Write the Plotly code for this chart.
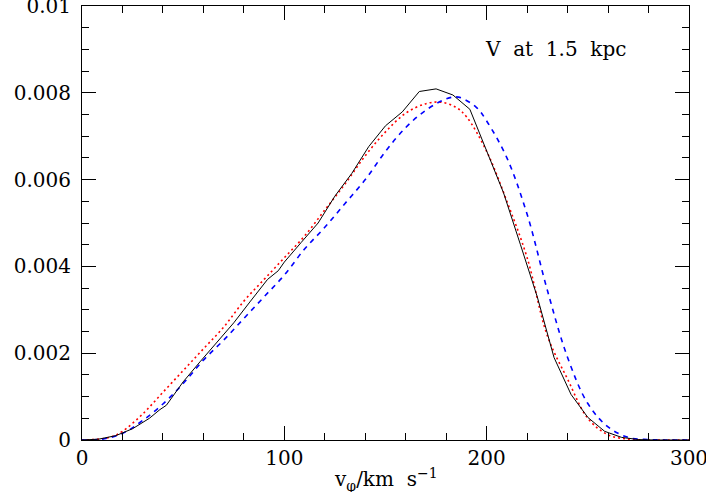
import plotly.graph_objects as go

# black solid histogram (model)
black_v = [0, 8.3, 16.7, 25, 33.3, 38.5, 41.7, 50, 58.3, 66.7, 75, 83.3, 91.7, 97, 100,
           108.3, 116.7, 125, 133.3, 141.7, 150, 158.3, 166.7, 175, 183.3, 191.7, 200,
           208.3, 216.7, 225, 233.3, 241.7, 250, 258.3, 266.7, 275, 283.3, 291.7, 300]
black_f = [0, 0.00002, 0.0001, 0.00026, 0.0005, 0.0007, 0.0008, 0.00134, 0.0018, 0.00225,
           0.0027, 0.0032, 0.0037, 0.0039, 0.0041, 0.00455, 0.005, 0.00562, 0.00614, 0.00676,
           0.00724, 0.00756, 0.00803, 0.00809, 0.00795, 0.00762, 0.00668, 0.0057, 0.0045,
           0.0033, 0.0019, 0.00105, 0.00052, 0.0002, 0.00006, 0.00001, 0, 0, 0]

# red dotted
red_v = [0, 5, 10, 15, 20, 30, 40, 50, 60, 70, 80, 90, 100, 110, 120, 130, 140, 150, 160,
         170, 178, 185, 190, 200, 210, 220, 230, 240, 250, 260, 270, 280, 290, 300]
red_f = [0, 0.00001, 0.00003, 0.00008, 0.0002, 0.0006, 0.0011, 0.0016, 0.0021, 0.0026,
         0.0032, 0.0037, 0.0042, 0.0047, 0.0053, 0.0059, 0.00655, 0.0071, 0.00753, 0.00775,
         0.00778, 0.00766, 0.00745, 0.00665, 0.0055, 0.0042, 0.0024, 0.0014, 0.0005,
         0.00012, 0.00002, 0, 0, 0]

# blue dashed
blue_v = [0, 10, 20, 30, 40, 50, 60, 70, 80, 90, 100, 110, 120, 130, 140, 150, 160, 170,
          180, 186, 195, 200, 210, 220, 230, 240, 250, 260, 270, 280, 290, 300]
blue_f = [0, 0.00002, 0.00015, 0.00045, 0.00083, 0.0013, 0.00184, 0.0023, 0.0028, 0.0033,
          0.0038, 0.0044, 0.0049, 0.00545, 0.006, 0.00665, 0.0072, 0.0076, 0.00786, 0.0079,
          0.00766, 0.00735, 0.0065, 0.0052, 0.00345, 0.0019, 0.00084, 0.0003, 0.00006,
          0.00001, 0, 0]

FONT = "DejaVu Serif"

fig = go.Figure()
fig.add_trace(go.Scatter(x=red_v, y=red_f, mode="lines", line_shape="spline",
                         line=dict(color="#ff0000", width=1.6, dash="2px,3px")))
fig.add_trace(go.Scatter(x=blue_v, y=blue_f, mode="lines", line_shape="spline",
                         line=dict(color="#0000ff", width=1.6, dash="5px,5px")))
fig.add_trace(go.Scatter(x=black_v, y=black_f, mode="lines",
                         line=dict(color="black", width=1)))

axis = dict(showline=True, linecolor="black", linewidth=1, mirror="allticks",
            ticks="inside", ticklen=14, tickwidth=1, tickcolor="black",
            showgrid=False, zeroline=False, automargin=False,
            ticklabeloverflow="allow",
            tickfont=dict(family=FONT, size=20, color="black"))

fig.update_xaxes(range=[0, 300], dtick=100, tick0=0,
                 minor=dict(dtick=20, ticks="inside", ticklen=7, tickcolor="black"),
                 **axis)
fig.update_yaxes(range=[0, 0.01], dtick=0.002, tick0=0, ticklabelstandoff=6,
                 minor=dict(dtick=0.0005, ticks="inside", ticklen=7, tickcolor="black"),
                 **axis)

# x-axis title as annotation (keeps it inside the small bottom margin)
fig.add_annotation(text="v<sub>φ</sub>/km  s<sup>−1</sup>", x=0.5, y=0,
                   xref="paper", yref="paper", showarrow=False,
                   xanchor="center", yanchor="top", yshift=-23,
                   font=dict(family=FONT, size=20, color="black"))

fig.add_annotation(text="V  at  1.5  kpc", x=0.9, y=0.9, xref="paper", yref="paper",
                   showarrow=False, xanchor="right", yanchor="middle",
                   font=dict(family=FONT, size=20, color="black"))

fig.update_layout(width=706, height=492, showlegend=False,
                  plot_bgcolor="white", paper_bgcolor="white",
                  margin=dict(l=82, r=17, t=6, b=52))

# drop the browser's default 8px body margin so the figure sits at the page corner
fig.write_html("out.html", config={"displayModeBar": False},
               post_script="document.body.style.margin='0';")
